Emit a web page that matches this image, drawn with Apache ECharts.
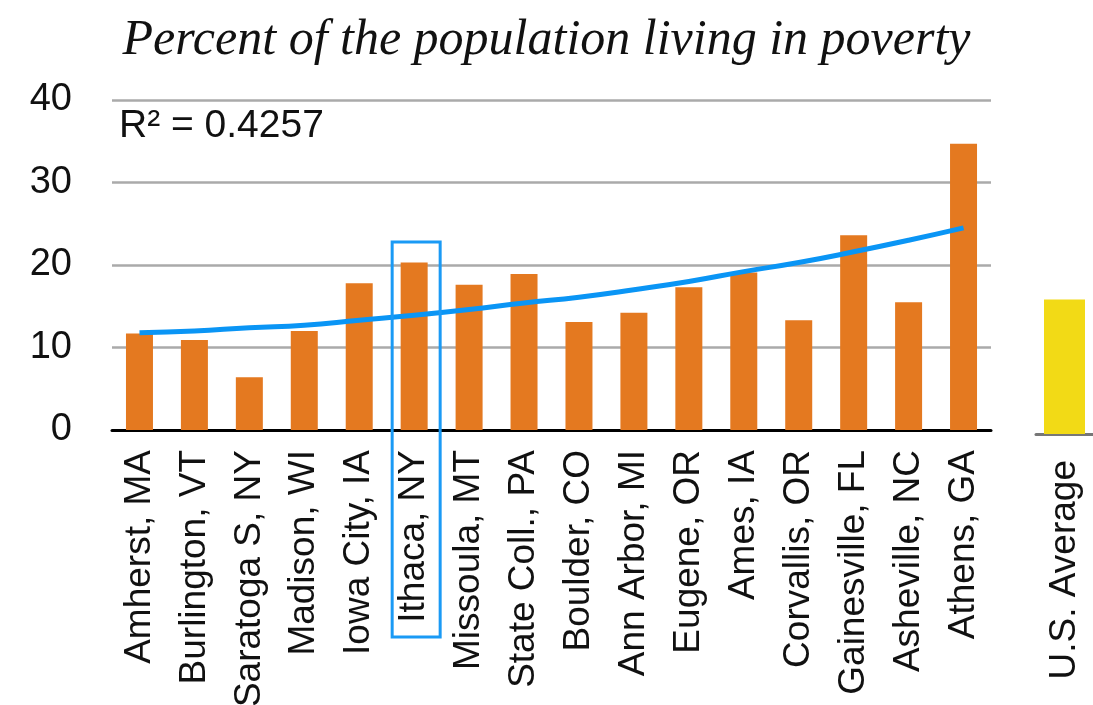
<!DOCTYPE html>
<html>
<head>
<meta charset="utf-8">
<script src="https://cdn.jsdelivr.net/npm/echarts@6/dist/echarts.min.js"></script>
<style>
    html, body { margin: 0; padding: 0; background: #fff; }
    #poverty { width: 1093px; height: 705px; }
</style>
</head>
<body>
<div id="poverty"></div>
<script>
// data
const towns = ['Amherst, MA', 'Burlington, VT', 'Saratoga S, NY', 'Madison, WI', 'Iowa City, IA',
    'Ithaca, NY', 'Missoula, MT', 'State Coll., PA', 'Boulder, CO', 'Ann Arbor, MI', 'Eugene, OR',
    'Ames, IA', 'Corvallis, OR', 'Gainesville, FL', 'Asheville, NC', 'Athens, GA'];
const poverty = [11.7, 10.9, 6.4, 12.0, 17.8, 20.3, 17.6, 18.9, 13.1, 14.2, 17.3, 19.1, 13.3, 23.6, 15.5, 34.7];
// exponential trend line as drawn in the picture
const trend = [11.8, 12.0, 12.4, 12.7, 13.3, 13.9, 14.6, 15.4, 16.1, 17.0, 18.0, 19.2, 20.3, 21.6, 23.0, 24.5];
const usLabel = ['U.S. Average'];
const usValue = [16.3];
const yTicks = [0, 10, 20, 30, 40];
const rSquared = 'R² = 0.4257';
const highlightTown = 'Ithaca, NY';

const font = 'Liberation Sans, Arial, Helvetica, sans-serif';

const option = {
    animation: false,
    title: {
        text: 'Percent of the population living in poverty',
        left: 'center',
        top: 11,
        textStyle: {
            fontFamily: 'Liberation Serif, Times New Roman, serif',
            fontStyle: 'italic',
            fontWeight: 'normal',
            fontSize: 50,
            color: '#111'
        }
    },
    grid: [
        {left: 112, top: 100, width: 879, height: 330, outerBoundsMode: 'none', containLabel: false},
        {left: 1036, top: 104, right: 0, height: 330, outerBoundsMode: 'none', containLabel: false}
    ],
    xAxis: [
        {
            type: 'category',
            gridIndex: 0,
            data: towns,
            axisTick: {show: false},
            axisLine: {lineStyle: {color: '#000', width: 3}},
            axisLabel: {
                interval: 0,
                rotate: 90,
                margin: 20,
                fontSize: 37,
                fontFamily: font,
                color: '#111'
            }
        },
        {
            type: 'category',
            gridIndex: 1,
            data: usLabel,
            axisTick: {show: false},
            axisLine: {lineStyle: {color: '#777', width: 3}},
            axisLabel: {
                interval: 0,
                rotate: 90,
                margin: 26,
                fontSize: 37,
                fontFamily: font,
                color: '#111'
            }
        }
    ],
    yAxis: [
        {
            type: 'value',
            gridIndex: 0,
            min: yTicks[0],
            max: yTicks[yTicks.length - 1],
            interval: 10,
            axisLine: {show: false},
            axisTick: {show: false},
            splitLine: {lineStyle: {color: '#aaa', width: 2.5}},
            axisLabel: {
                margin: 40,
                fontSize: 38,
                fontFamily: font,
                color: '#111'
            }
        },
        {
            type: 'value',
            gridIndex: 1,
            min: yTicks[0],
            max: yTicks[yTicks.length - 1],
            show: false,
            splitLine: {show: false}
        }
    ],
    series: [
        {
            name: 'Poverty',
            type: 'bar',
            xAxisIndex: 0,
            yAxisIndex: 0,
            data: poverty,
            barWidth: 27,
            itemStyle: {color: '#e47920'}
        },
        {
            name: 'Trend',
            type: 'line',
            xAxisIndex: 0,
            yAxisIndex: 0,
            data: trend,
            smooth: true,
            symbol: 'none',
            lineStyle: {color: '#0a95f5', width: 5}
        },
        {
            name: 'U.S. Average',
            type: 'bar',
            xAxisIndex: 1,
            yAxisIndex: 1,
            data: usValue,
            barWidth: 41,
            itemStyle: {color: '#f2da16'}
        }
    ],
    graphic: [
        {
            type: 'text',
            left: 119,
            top: 107,
            style: {
                text: rSquared,
                fontSize: 39,
                fontFamily: font,
                fill: '#111'
            }
        }
    ]
};

let chart = echarts.init(document.getElementById('poverty'));
chart.setOption(option);

// box round the highlighted town, placed through the axis scales
const idx = towns.indexOf(highlightTown);
const topPt = chart.convertToPixel({gridIndex: 0}, [idx, 22.8]);
const basePt = chart.convertToPixel({gridIndex: 0}, [idx, 0]);
chart.setOption({
    graphic: [
        option.graphic[0],
        {
            type: 'rect',
            shape: {
                x: topPt[0] - 22,
                y: topPt[1],
                width: 48,
                height: basePt[1] + 207 - topPt[1]
            },
            style: {fill: 'none', stroke: '#1a9af5', lineWidth: 3},
            z: 10
        }
    ]
});

window.addEventListener('resize', function () {
    chart.resize();
});
</script>
</body>
</html>
